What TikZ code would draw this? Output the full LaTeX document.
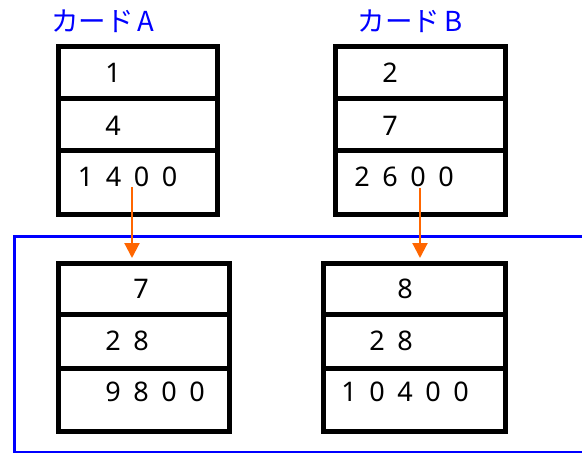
\documentclass[tikz,border=0pt]{standalone}
\usepackage{fontspec}
\setmainfont{Noto Sans}
\newfontfamily\jpfont{Noto Sans CJK JP}
\usetikzlibrary{arrows.meta}
\definecolor{arr}{HTML}{FF6600}
\newcommand\dd[1]{\makebox[28pt]{#1}}
\begin{document}
\begin{tikzpicture}[x=1pt,y=-1pt,
 cell/.style={draw=black,line width=4.6pt,inner sep=0pt,anchor=north west},
 txt/.style={anchor=base,inner sep=0pt,font=\fontsize{27}{30}\selectfont},
 ttl/.style={anchor=base,inner sep=0pt,text=blue,font=\fontsize{27.5}{30}\selectfont\jpfont},
 frame/.style={draw=blue,line width=3.2pt,inner sep=0pt,anchor=north west},
 conn/.style={draw=arr,line width=2.2pt,-{Triangle[width=15pt,length=15pt]}}]
\useasboundingbox (0,0) rectangle (582,453);
\clip (0,0) rectangle (582,453);
% titles
\node[ttl] (tA) at (103,31.7) {カード\hspace{4pt}A};
\node[ttl] (tB) at (410,31.7) {カード\hspace{4pt}B};
% card A
\node[cell,minimum width=159pt,minimum height=52pt] (a1) at (56,44) {};
\node[cell,minimum width=159pt,minimum height=52pt] (a2) at (56,96) {};
\node[cell,minimum width=159pt,minimum height=64pt] (a3) at (56,148) {};
% card B
\node[cell,minimum width=170pt,minimum height=52pt] (b1) at (333,44) {};
\node[cell,minimum width=170pt,minimum height=52pt] (b2) at (333,96) {};
\node[cell,minimum width=170pt,minimum height=64pt] (b3) at (333,148) {};
% frame
\node[frame,minimum width=600pt,minimum height=216pt] (fr) at (12.5,234.7) {};
% result A
\node[cell,minimum width=171pt,minimum height=51pt] (c1) at (56,261) {};
\node[cell,minimum width=171pt,minimum height=54pt] (c2) at (56,312) {};
\node[cell,minimum width=171pt,minimum height=63pt] (c3) at (56,366) {};
% result B
\node[cell,minimum width=182pt,minimum height=51pt] (d1) at (321,261) {};
\node[cell,minimum width=182pt,minimum height=54pt] (d2) at (321,312) {};
\node[cell,minimum width=182pt,minimum height=63pt] (d3) at (321,366) {};
% texts
\node[txt] (xa1) at (113,82.7) {\dd{1}};
\node[txt] (xa2) at (113,135) {\dd{4}};
\node[txt] (xa3) at (127.5,186.7) {\dd{1}\dd{4}\dd{0}\dd{0}};
\node[txt] (xb1) at (390,82.7) {\dd{2}};
\node[txt] (xb2) at (390,135) {\dd{7}};
\node[txt] (xb3) at (404,186.7) {\dd{2}\dd{6}\dd{0}\dd{0}};
\node[txt] (xc1) at (141,298.3) {\dd{7}};
\node[txt] (xc2) at (127,350) {\dd{2}\dd{8}};
\node[txt] (xc3) at (155,401.7) {\dd{9}\dd{8}\dd{0}\dd{0}};
\node[txt] (xd1) at (405,298.3) {\dd{8}};
\node[txt] (xd2) at (391,350) {\dd{2}\dd{8}};
\node[txt] (xd3) at (405,401.7) {\dd{1}\dd{0}\dd{4}\dd{0}\dd{0}};
% arrows
\coordinate (sA) at (132,187);
\coordinate (eA) at (132,258);
\coordinate (sB) at (420,188);
\coordinate (eB) at (420,258);
\draw[conn] (sA) -- (eA);
\draw[conn] (sB) -- (eB);
\end{tikzpicture}
\end{document}
